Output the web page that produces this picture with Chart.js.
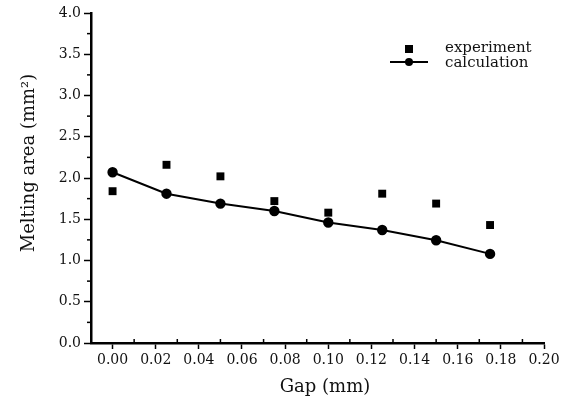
<!DOCTYPE html>
<html>
<head>
<meta charset="utf-8">
<script src="https://cdn.jsdelivr.net/npm/chart.js@4/dist/chart.umd.min.js"></script>
<style>
  html, body { margin: 0; padding: 0; background: #fff; }
  #wrap { width: 574px; height: 403px; }
</style>
</head>
<body>
<div id="wrap"><canvas id="melt-chart" width="574" height="403"></canvas></div>
<script>
// values
const gapValues = [0, 0.025, 0.05, 0.075, 0.1, 0.125, 0.15, 0.175];
const experimentValues = [1.84, 2.16, 2.02, 1.72, 1.58, 1.81, 1.69, 1.43];
const calculationValues = [2.07, 1.81, 1.69, 1.6, 1.46, 1.37, 1.245, 1.08];

const xTickLabels = [0, 0.02, 0.04, 0.06, 0.08, 0.1, 0.12, 0.14, 0.16, 0.18, 0.2];
const yTickLabels = [0, 0.5, 1, 1.5, 2, 2.5, 3, 3.5, 4];

const serif = "'DejaVu Serif', 'Liberation Serif', serif";

function toPoints(xs, ys) {
  return xs.map((x, i) => ({ x, y: ys[i] }));
}

// small ticks halfway between the labelled ones
const minorTicks = {
  id: "minorTicks",
  afterDraw(chart) {
    const { ctx, scales, chartArea } = chart;
    ctx.save();
    ctx.strokeStyle = "#000";
    ctx.lineWidth = 1.5;
    for (let i = 0; i < xTickLabels.length - 1; i++) {
      const px = scales.x.getPixelForValue((xTickLabels[i] + xTickLabels[i + 1]) / 2);
      ctx.beginPath();
      ctx.moveTo(px, chartArea.bottom);
      ctx.lineTo(px, chartArea.bottom - 4);
      ctx.stroke();
    }
    for (let i = 0; i < yTickLabels.length - 1; i++) {
      const py = scales.y.getPixelForValue((yTickLabels[i] + yTickLabels[i + 1]) / 2);
      ctx.beginPath();
      ctx.moveTo(chartArea.left, py);
      ctx.lineTo(chartArea.left - 4, py);
      ctx.stroke();
    }
    ctx.restore();
  },
};

// axis titles
const axisTitles = {
  id: "axisTitles",
  afterDraw(chart) {
    const ctx = chart.ctx;
    ctx.save();
    ctx.fillStyle = "#111";
    ctx.font = "18px " + serif;
    ctx.textAlign = "center";
    ctx.textBaseline = "middle";
    ctx.fillText("Gap (mm)", 325, 387);
    ctx.translate(29, 163);
    ctx.rotate(-Math.PI / 2);
    ctx.fillText("Melting area (mm²)", 0, 0);
    ctx.restore();
  },
};

// legend in the upper right corner
const cornerLegend = {
  id: "cornerLegend",
  afterDraw(chart) {
    const ctx = chart.ctx;
    const ds = chart.data.datasets;
    ctx.save();
    ctx.fillStyle = "#000";
    ctx.strokeStyle = "#000";
    // experiment
    ctx.fillRect(405, 45, 8, 8);
    // calculation
    ctx.lineWidth = 2;
    ctx.beginPath();
    ctx.moveTo(390, 62);
    ctx.lineTo(428, 62);
    ctx.stroke();
    ctx.beginPath();
    ctx.arc(409, 62, 4, 0, Math.PI * 2);
    ctx.fill();
    ctx.fillStyle = "#111";
    ctx.font = "15px " + serif;
    ctx.textBaseline = "middle";
    ctx.fillText(ds[0].label, 445, 48);
    ctx.fillText(ds[1].label, 445, 63);
    ctx.restore();
  },
};

const ctx = document.querySelector("#melt-chart").getContext("2d");

const myChart = new Chart(ctx, {
  type: "scatter",
  data: {
    datasets: [
      {
        label: "experiment",
        data: toPoints(gapValues, experimentValues),
        pointStyle: "rect",
        pointRadius: 5.6,
        backgroundColor: "#000",
        borderColor: "#000",
        borderWidth: 0,
        showLine: false,
      },
      {
        label: "calculation",
        data: toPoints(gapValues, calculationValues),
        pointStyle: "circle",
        pointRadius: 4.2,
        backgroundColor: "#000",
        borderColor: "#000",
        borderWidth: 2,
        showLine: true,
      },
    ],
  },
  options: {
    responsive: false,
    animation: false,
    layout: { padding: { top: 13, right: 30, left: 0, bottom: 0 } },
    plugins: {
      legend: { display: false },
      tooltip: { enabled: false },
    },
    scales: {
      x: {
        type: "linear",
        min: -0.01,
        max: 0.2,
        afterBuildTicks: (scale) => {
          scale.ticks = xTickLabels.map((v) => ({ value: v }));
        },
        afterFit: (scale) => {
          scale.height = 60;
        },
        border: { display: true, color: "#000", width: 2.5 },
        grid: { drawOnChartArea: false, drawTicks: true, tickLength: 6, tickColor: "#000", tickWidth: 1.5 },
        ticks: {
          color: "#111",
          font: { family: serif, size: 14 },
          padding: 3,
          maxRotation: 0,
          autoSkip: false,
          callback: (v) => Number(v).toFixed(2),
        },
      },
      y: {
        type: "linear",
        min: 0,
        max: 4,
        afterBuildTicks: (scale) => {
          scale.ticks = yTickLabels.map((v) => ({ value: v }));
        },
        afterFit: (scale) => {
          scale.width = 91;
        },
        border: { display: true, color: "#000", width: 2.5 },
        grid: { drawOnChartArea: false, drawTicks: true, tickLength: 7, tickColor: "#000", tickWidth: 1.5 },
        ticks: {
          color: "#111",
          font: { family: serif, size: 14 },
          padding: 3,
          autoSkip: false,
          callback: (v) => Number(v).toFixed(1),
        },
      },
    },
  },
  plugins: [minorTicks, axisTitles, cornerLegend],
});
</script>
</body>
</html>
